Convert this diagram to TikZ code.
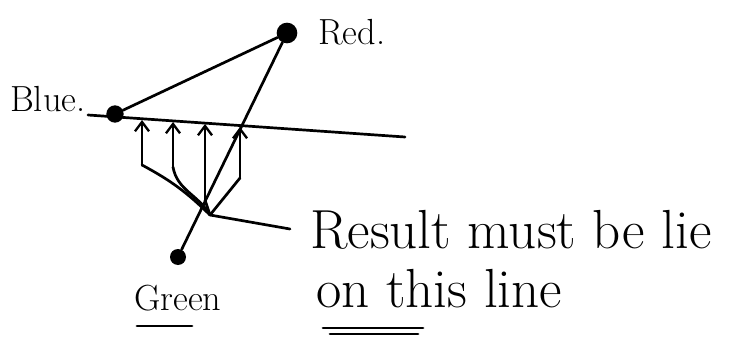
\documentclass[tikz,border=0pt]{standalone}
\usetikzlibrary{arrows.meta}
\tikzset{
  dot/.style={circle,fill=black,inner sep=0pt},
  pen/.style={line width=2.3pt,line cap=round,line join=round},
  uparrow/.style={pen,-{Straight Barb[length=8pt,width=12pt,line width=2pt]}},
  label/.style={inner sep=0pt,font=\fontsize{31}{36}\selectfont},
  note/.style={inner sep=0pt,font=\fontsize{47}{54}\selectfont}
}
\begin{document}
\begin{tikzpicture}[x=0.03cm,y=-0.03cm]
\useasboundingbox (0,0) rectangle (748,340);
% points
\node[dot,minimum size=0.62cm] (red) at (287,33) {};
\node[dot,minimum size=0.52cm] (blue) at (115,114) {};
\node[dot,minimum size=0.48cm] (green) at (178,257) {};
\node[label,anchor=base west] (redtext) at (318,45) {Red.};
\node[label,anchor=base west] (bluetext) at (10,112) {Blue.};
\node[label,anchor=base west] (greentext) at (134,310) {Green};
% the line
\coordinate (lineL) at (88,115);
\coordinate (lineR) at (405,137);
\draw[pen] (lineL) -- (lineR);
\draw[pen] (blue) -- (red);
\draw[pen] (red) -- (green);
% arrows up to the line
\coordinate (t1) at (142,120);
\coordinate (t2) at (173,122);
\coordinate (t3) at (205,124);
\coordinate (t4) at (240,127);
\coordinate (b1) at (142,165);
\coordinate (b2) at (173,167);
\coordinate (b3) at (205,200);
\coordinate (b4) at (240,178);
\coordinate (meet) at (210,215);
\draw[uparrow] (b1) -- (t1);
\draw[uparrow] (b2) -- (t2);
\draw[uparrow] (b3) -- (t3);
\draw[uparrow] (b4) -- (t4);
\draw[pen] (b1) to[bend left=8] (meet);
\draw[pen] (b2) to[out=-80,in=120] (meet);
\draw[pen] (b3) -- (meet);
\draw[pen] (b4) -- (meet);
% note
\node[note,anchor=base west] (note1) at (310,248) {Result must be lie};
\node[note,anchor=base west] (note2) at (316,307) {on this line};
\coordinate (pointer) at (290,229);
\draw[pen] (meet) -- (pointer);
% underlines
\draw[pen] (137,326) -- (192,326);
\draw[pen] (323,328) -- (423,328);
\draw[pen] (330,334) -- (418,334);
\end{tikzpicture}
\end{document}
